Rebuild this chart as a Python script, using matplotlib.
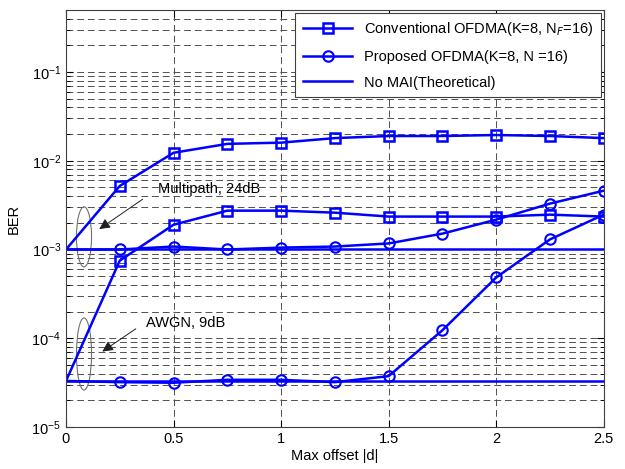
import numpy as np
import matplotlib.pyplot as plt
from matplotlib.patches import Ellipse

plt.rcParams['font.family'] = ['Liberation Sans', 'DejaVu Sans']

"""DATA"""
offset = [0, 0.25, 0.5, 0.75, 1.0, 1.25, 1.5, 1.75, 2.0, 2.25, 2.5]

# conventional OFDMA
conv_mp = [1e-3, 5.2e-3, 1.23e-2, 1.55e-2, 1.6e-2, 1.8e-2, 1.9e-2, 1.9e-2, 1.95e-2, 1.9e-2, 1.8e-2]
conv_awgn = [3.3e-5, 7.5e-4, 1.9e-3, 2.74e-3, 2.74e-3, 2.6e-3, 2.35e-3, 2.35e-3, 2.35e-3, 2.47e-3, 2.35e-3]

# proposed OFDMA
prop_mp = [1e-3, 1.0e-3, 1.08e-3, 1.0e-3, 1.05e-3, 1.08e-3, 1.17e-3, 1.51e-3, 2.17e-3, 3.29e-3, 4.6e-3]
prop_awgn = [3.3e-5, 3.2e-5, 3.15e-5, 3.4e-5, 3.4e-5, 3.2e-5, 3.74e-5, 1.23e-4, 4.84e-4, 1.3e-3, 2.47e-3]

# theoretical, no MAI
nomai_mp = 1e-3
nomai_awgn = 3.3e-5

labels = ['Conventional OFDMA(K=8, N$_F$=16)', 'Proposed OFDMA(K=8, N =16)', 'No MAI(Theoretical)']

c = '#0000ff'
lw = 1.8
me = slice(1, None)  # no marker on the x=0 point

fig = plt.figure(figsize=(6.25, 4.69), dpi=100, facecolor='w')
ax = fig.add_axes([0.1056, 0.0896, 0.8604, 0.8891])

l1, = ax.semilogy(offset, conv_mp, '-s', color=c, lw=lw, ms=7, mfc='none', mew=1.8, markevery=me)
ax.semilogy(offset, conv_awgn, '-s', color=c, lw=lw, ms=7, mfc='none', mew=1.8, markevery=me)
l2, = ax.semilogy(offset, prop_mp, '-o', color=c, lw=lw, ms=7.5, mfc='none', mew=1.5, markevery=me)
ax.semilogy(offset, prop_awgn, '-o', color=c, lw=lw, ms=7.5, mfc='none', mew=1.5, markevery=me)
l3, = ax.semilogy([offset[0], offset[-1]], [nomai_mp, nomai_mp], '-', color=c, lw=lw)
ax.semilogy([offset[0], offset[-1]], [nomai_awgn, nomai_awgn], '-', color=c, lw=lw)

ax.set_xlim(0, 2.5)
ax.set_ylim(1e-5, 0.5)
ax.set_xticks([0, 0.5, 1, 1.5, 2, 2.5])
ax.set_xticklabels(['0', '0.5', '1', '1.5', '2', '2.5'])
ax.set_yticks([1e-5, 1e-4, 1e-3, 1e-2, 1e-1])
ax.tick_params(which='both', direction='in', top=True, right=True, labelsize=10.5)
ax.tick_params(which='major', length=5)
ax.tick_params(which='minor', length=3)

ax.grid(True, which='major', axis='x', color='#505050', ls=(0, (7, 4)), lw=0.7)
ax.grid(True, which='both', axis='y', color='#505050', ls=(0, (7, 4)), lw=0.7)
ax.set_axisbelow(True)
for sp in ax.spines.values():
    sp.set_color('#404040')
    sp.set_linewidth(0.8)

ax.set_xlabel('Max offset |d|', fontsize=10.5, labelpad=2)
ax.set_ylabel('BER', fontsize=10.5, labelpad=8)

# annotations
ax.add_patch(Ellipse((0.0335, 0.456), 0.028, 0.144, transform=ax.transAxes,
                     fill=False, ec='#707070', lw=0.8))
ax.add_patch(Ellipse((0.0335, 0.175), 0.028, 0.173, transform=ax.transAxes,
                     fill=False, ec='#707070', lw=0.8))
ax.annotate('', xy=(0.144, 1.63e-3), xytext=(0.367, 3.84e-3),
            arrowprops=dict(arrowstyle='-|>', color='#202020', lw=0.7, mutation_scale=16))
ax.annotate('', xy=(0.158, 6.8e-5), xytext=(0.335, 1.33e-4),
            arrowprops=dict(arrowstyle='-|>', color='#202020', lw=0.7, mutation_scale=16))
ax.text(0.428, 4.84e-3, 'Multipath, 24dB', fontsize=10.5, va='center', ha='left')
ax.text(0.372, 1.48e-4, 'AWGN, 9dB', fontsize=10.5, va='center', ha='left')

leg = ax.legend([l1, l2, l3], labels, loc='upper right', fontsize=10.5, fancybox=False,
                framealpha=1, edgecolor='#404040', borderaxespad=0.2, handlelength=3.4,
                labelspacing=0.8, borderpad=0.5)
leg.get_frame().set_linewidth(0.8)

fig.savefig('out.png', dpi=100)
